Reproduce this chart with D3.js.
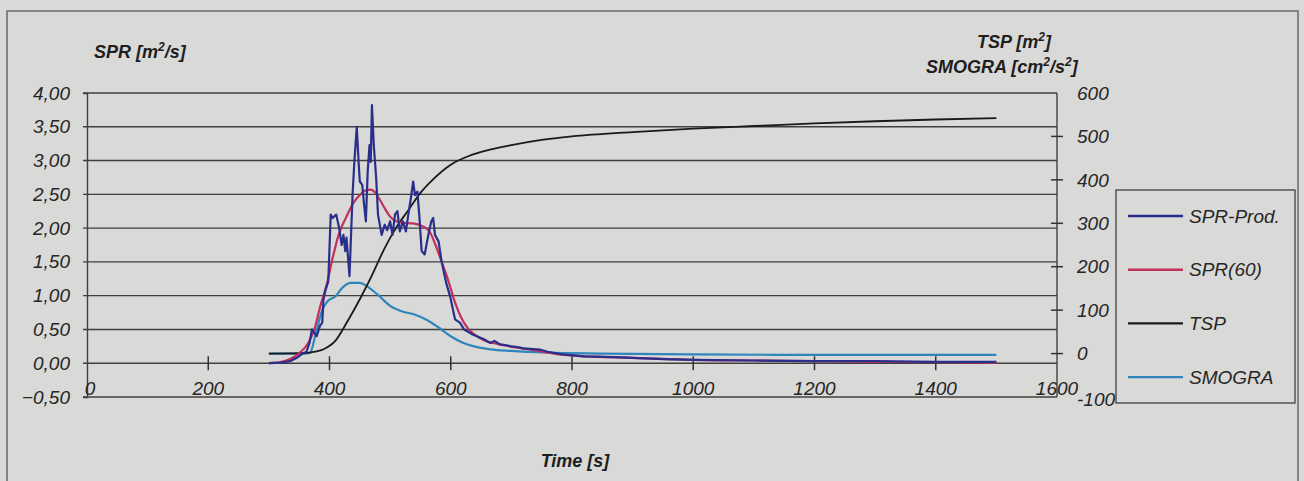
<!DOCTYPE html>
<html>
<head>
<meta charset="utf-8">
<script src="https://cdn.jsdelivr.net/npm/d3@7"></script>
<style>
  body { margin: 0; background: #d9d9d7; }
  svg { display: block; font-family: "Liberation Sans", Arial, sans-serif; }
  .lbl { font-style: italic; font-size: 19px; fill: #262626; }
  .ttl { font-style: italic; font-weight: bold; font-size: 18px; fill: #1e1e1e; }
</style>
</head>
<body>
<script>
// time axis / tick values
var xTicks = [0, 200, 400, 600, 800, 1000, 1200, 1400, 1600];
var leftTicks = [-0.5, 0, 0.5, 1, 1.5, 2, 2.5, 3, 3.5, 4];
var rightTicks = [-100, 0, 100, 200, 300, 400, 500, 600];

// SPR-Prod [m2/s] (raw, noisy)
var prodT = [300, 320, 335, 346, 355, 362, 367, 371, 375, 379, 384, 388, 390, 393, 398, 402, 405, 411, 416, 420,
  423, 426, 428, 433, 438, 441, 445, 448, 450, 454, 457, 460, 463, 466, 468, 470, 473, 477, 480, 486,
  491, 495, 500, 504, 508, 512, 516, 521, 526, 530, 535, 538, 541, 545, 548, 552, 557, 563, 568, 571,
  574, 580, 585, 593, 599, 607, 615, 622, 628, 635, 643, 654, 665, 672, 681, 690, 700, 710, 720, 736,
  748, 760, 784, 820, 870, 950, 1000, 1100, 1200, 1300, 1400, 1500];
var prodV = [0.0, 0.01, 0.03, 0.08, 0.14, 0.17, 0.3, 0.5, 0.45, 0.4, 0.55, 0.6, 0.94, 1.07, 1.21, 2.2, 2.15, 2.2, 2.0, 1.75,
  1.9, 1.66, 1.86, 1.29, 2.49, 2.98, 3.5, 2.98, 2.69, 2.64, 2.35, 2.1, 2.84, 3.23, 2.98, 3.82, 3.23, 2.74, 2.2, 1.9,
  2.05, 1.97, 2.1, 1.9, 2.2, 2.25, 1.95, 2.1, 1.95, 2.2, 2.49, 2.69, 2.49, 2.54, 2.2, 1.66, 1.61, 1.9, 2.1, 2.15,
  1.9, 1.8, 1.5, 1.17, 0.99, 0.65, 0.6, 0.5, 0.47, 0.43, 0.4, 0.36, 0.3, 0.33, 0.28, 0.27, 0.25, 0.24, 0.22, 0.21,
  0.2, 0.17, 0.13, 0.1, 0.09, 0.06, 0.05, 0.04, 0.03, 0.03, 0.02, 0.02];

// SPR(60) [m2/s] (smoothed)
var spr60T = [300, 325, 350, 365, 375, 385, 395, 405, 415, 428, 440, 450, 460, 468, 476, 483, 492, 500, 510, 520,
  538, 555, 565, 575, 585, 595, 607, 617, 628, 640, 655, 680, 710, 740, 780, 820, 900, 1000, 1100, 1200,
  1300, 1400, 1500];
var spr60V = [0.0, 0.03, 0.15, 0.3, 0.5, 0.85, 1.15, 1.55, 1.9, 2.17, 2.38, 2.49, 2.56, 2.57, 2.52, 2.42, 2.28, 2.17, 2.1, 2.08,
  2.07, 2.02, 1.95, 1.75, 1.5, 1.25, 0.9, 0.68, 0.52, 0.42, 0.34, 0.28, 0.23, 0.19, 0.13, 0.1, 0.08, 0.05, 0.04, 0.03,
  0.02, 0.015, 0.01];

// TSP [m2]
var tspT = [300, 350, 370, 390, 410, 430, 450, 470, 490, 510, 530, 550, 570, 600, 630, 660, 700, 750, 800, 900,
  1000, 1100, 1200, 1300, 1400, 1500];
var tspV = [0, 1, 3, 10, 30, 75, 125, 180, 240, 290, 330, 370, 400, 435, 455, 468, 480, 492, 500, 510,
  518, 524, 530, 535, 539, 542];

// SMOGRA [cm2/s2]
var smoT = [300, 360, 368, 378, 388, 398, 410, 420, 435, 450, 465, 480, 500, 520, 540, 560, 580, 600, 620, 640,
  660, 700, 760, 850, 1000, 1200, 1500];
var smoV = [0, 0, 2, 50, 100, 122, 132, 150, 163, 163, 152, 135, 110, 97, 90, 78, 60, 40, 25, 16,
  11, 6, 2, 0, -2, -3, -3];

var legendNames = ['SPR-Prod.', 'SPR(60)', 'TSP', 'SMOGRA'];
var colors = ['#2b2f8c', '#c2305c', '#1a1a1a', '#2f86bd'];

var W = 1304, H = 481;
var svg = d3.select('body').append('svg').attr('width', W).attr('height', H);

var x = d3.scaleLinear().domain([0, 1600]).range([87, 1057]);
var yL = d3.scaleLinear().domain([-0.5, 4]).range([397, 93]);
var yR = d3.scaleLinear().domain([-100, 600]).range([397, 93]);

var comma = function (v) { return d3.format('.2f')(v).replace('.', ','); };

// outer frame
svg.append('rect')
  .attr('x', 7).attr('y', 11).attr('width', 1291).attr('height', 480)
  .attr('fill', 'none').attr('stroke', '#6a6a6a').attr('stroke-width', 1.5);

// horizontal grid
svg.append('g').selectAll('line')
  .data(leftTicks)
  .enter().append('line')
  .attr('x1', 83).attr('x2', x(1600))
  .attr('y1', function (d) { return yL(d); })
  .attr('y2', function (d) { return yL(d); })
  .attr('stroke', '#3f3f3f').attr('stroke-width', 1.4);

// left axis
var gl = svg.append('g').attr('transform', 'translate(' + x(0) + ',0)')
  .call(d3.axisLeft(yL).tickValues(leftTicks).tickFormat(comma).tickSize(4).tickPadding(13));
gl.select('.domain').attr('stroke', '#3f3f3f').attr('stroke-width', 1.4);
gl.selectAll('.tick line').remove();
gl.selectAll('text').attr('class', 'lbl').attr('font-size', null).attr('font-family', null).attr('fill', null);

// right axis
svg.append('line')
  .attr('x1', x(1600)).attr('x2', x(1600)).attr('y1', yR(600)).attr('y2', yR(-100))
  .attr('stroke', '#3f3f3f').attr('stroke-width', 1.4);
svg.append('g').selectAll('line')
  .data(rightTicks.filter(function (d) { return d > -100 && d < 600; }))
  .enter().append('line')
  .attr('x1', x(1600) - 6).attr('x2', x(1600) + 6)
  .attr('y1', function (d) { return yR(d); })
  .attr('y2', function (d) { return yR(d); })
  .attr('stroke', '#333').attr('stroke-width', 1.5);
svg.append('g').selectAll('text')
  .data(rightTicks)
  .enter().append('text')
  .attr('class', 'lbl')
  .attr('x', 1077)
  .attr('y', function (d) { return yR(d) + (d === -100 ? 2 : 0); })
  .attr('dy', '0.35em')
  .text(function (d) { return d; });

// x axis ticks (crossing the zero line)
svg.append('g').selectAll('line')
  .data(xTicks.slice(1, -1))
  .enter().append('line')
  .attr('x1', function (d) { return x(d); })
  .attr('x2', function (d) { return x(d); })
  .attr('y1', yL(0) - 7).attr('y2', yL(0) + 7)
  .attr('stroke', '#333').attr('stroke-width', 1.5);
svg.append('g').selectAll('text')
  .data(xTicks)
  .enter().append('text')
  .attr('class', 'lbl')
  .attr('x', function (d) { return x(d) + (d === 0 ? 3 : 0); })
  .attr('y', 395)
  .attr('text-anchor', 'middle')
  .text(function (d) { return d; });

// series
var lineL = d3.line()
  .x(function (d) { return x(d[0]); })
  .y(function (d) { return yL(d[1]); })
  .curve(d3.curveMonotoneX);
var lineR = d3.line()
  .x(function (d) { return x(d[0]); })
  .y(function (d) { return yR(d[1]); })
  .curve(d3.curveMonotoneX);

var zip = function (a, b) { return a.map(function (t, i) { return [t, b[i]]; }); };

svg.append('path').datum(zip(smoT, smoV))
  .attr('d', lineR).attr('fill', 'none').attr('stroke', colors[3]).attr('stroke-width', 2.2);
svg.append('path').datum(zip(tspT, tspV))
  .attr('d', lineR).attr('fill', 'none').attr('stroke', colors[2]).attr('stroke-width', 1.8);
svg.append('path').datum(zip(spr60T, spr60V))
  .attr('d', lineL).attr('fill', 'none').attr('stroke', colors[1]).attr('stroke-width', 2.2);
svg.append('path').datum(zip(prodT, prodV))
  .attr('d', d3.line()
    .x(function (d) { return x(d[0]); })
    .y(function (d) { return yL(d[1]); }))
  .attr('fill', 'none').attr('stroke', colors[0]).attr('stroke-width', 2.2)
  .attr('stroke-linejoin', 'round');

// axis titles
svg.append('text').attr('class', 'ttl').attr('x', 94).attr('y', 58)
  .html('SPR [m<tspan dy="-7" font-size="12">2</tspan><tspan dy="7">/s]</tspan>');
svg.append('text').attr('class', 'ttl').attr('x', 977).attr('y', 48)
  .html('TSP [m<tspan dy="-7" font-size="12">2</tspan><tspan dy="7">]</tspan>');
svg.append('text').attr('class', 'ttl').attr('x', 926).attr('y', 73)
  .html('SMOGRA [cm<tspan dy="-7" font-size="12">2</tspan><tspan dy="7">/s</tspan><tspan dy="-7" font-size="12">2</tspan><tspan dy="7">]</tspan>');
svg.append('text').attr('class', 'ttl').attr('x', 575).attr('y', 467)
  .attr('text-anchor', 'middle').text('Time [s]');

// legend
var lg = svg.append('g');
lg.append('rect')
  .attr('x', 1116).attr('y', 190).attr('width', 179).attr('height', 213)
  .attr('fill', 'none').attr('stroke', '#4a4a4a').attr('stroke-width', 1.4);
var items = lg.selectAll('g.item')
  .data(legendNames)
  .enter().append('g')
  .attr('transform', function (d, i) { return 'translate(0,' + (216 + i * 53.7) + ')'; });
items.append('line')
  .attr('x1', 1128).attr('x2', 1183)
  .attr('stroke', function (d, i) { return colors[i]; })
  .attr('stroke-width', 2.4);
items.append('text')
  .attr('class', 'lbl').attr('font-size', 17)
  .attr('x', 1189).attr('dy', '0.35em')
  .text(function (d) { return d; });
</script>
</body>
</html>
